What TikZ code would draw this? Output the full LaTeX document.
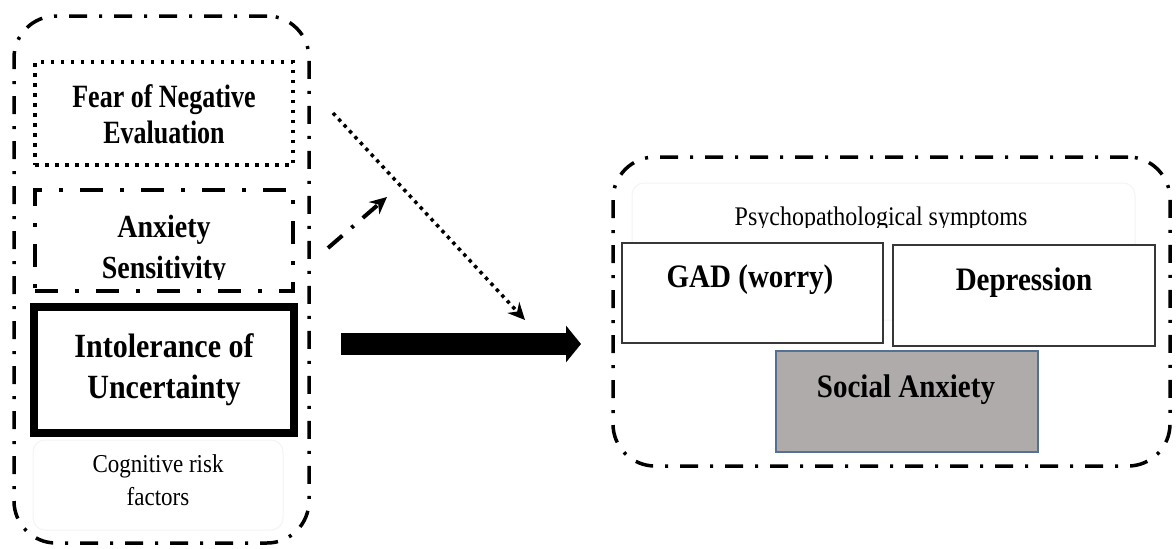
\documentclass[tikz,border=0pt]{standalone}
\usepackage{fontspec}
\usepackage{graphicx}
\setmainfont{Liberation Serif}
\usetikzlibrary{arrows.meta}
\definecolor{sagray}{RGB}{174,171,170}
\definecolor{saedge}{RGB}{84,112,146}
\definecolor{boxedge}{RGB}{55,55,55}
% tall, slightly condensed lettering
\newcommand{\tallline}[2]{\scalebox{1}[#1]{#2}}
\begin{document}
\begin{tikzpicture}[x=1pt,y=-1pt,
  every node/.style={inner sep=0pt, outer sep=0pt},
  group/.style={draw=black, line width=3.5pt, rounded corners=42pt,
    dash pattern=on 18pt off 12pt on 3pt off 12pt, rectangle},
  faintbox/.style={draw=gray!9, line width=1pt, rounded corners=12pt, rectangle},
  fnebox/.style={draw=black, line width=3.5pt, dash pattern=on 3.5pt off 6.5pt, rectangle},
  asbox/.style={draw=black, line width=4.5pt, dash pattern=on 23pt off 17pt on 4pt off 17pt, rectangle},
  iubox/.style={draw=black, line width=8pt, rectangle},
  symbox/.style={draw=boxedge, line width=2pt, fill=white, rectangle},
  sabox/.style={draw=saedge, line width=2pt, fill=sagray, rectangle},
  risklabel/.style={font=\bfseries, align=center, anchor=base},
  plainlabel/.style={align=center, anchor=base},
  dotarrow/.style={line width=3.5pt, dash pattern=on 3.5pt off 4.5pt, -{Stealth[length=17pt,width=16pt]}},
  dasharrow/.style={line width=4pt, dash pattern=on 19pt off 12pt on 3pt off 12pt, -{Stealth[length=17pt,width=16pt]}},
  bigarrow/.style={line width=22pt, -{Triangle[length=15pt,width=36pt]}}
]
\useasboundingbox (0,0) rectangle (1176,549);
\fill[white] (0,0) rectangle (1176,549);

% outer groups
\node[group, minimum width=295pt, minimum height=527pt] (risk) at (161.5,279.5) {};
\node[group, minimum width=557pt, minimum height=309pt] (sym) at (891.5,311.5) {};

% faint text frames
\node[faintbox, minimum width=250pt, minimum height=90pt] (riskframe) at (158,485) {};
\node[faintbox, minimum width=503pt, minimum height=137pt] (symframe) at (883.5,251.5) {};

% risk factor boxes
\node[fnebox, minimum width=258pt, minimum height=103pt] (fne) at (164,113.5) {};
\node[asbox, minimum width=258pt, minimum height=101pt] (as) at (164,240.5) {};
\node[iubox, minimum width=260pt, minimum height=126pt] (iu) at (164,370) {};

% symptom boxes
\node[symbox, minimum width=261pt, minimum height=100pt] (gad) at (752.5,293) {};
\node[symbox, minimum width=262pt, minimum height=101pt] (dep) at (1024,295.5) {};
\node[sabox, minimum width=262pt, minimum height=101pt] (sa) at (907,401.5) {};

% labels (base anchor sits on the last line)
\node[risklabel, font=\bfseries\fontsize{26}{36}\selectfont] (fnet) at (164,143)
  {\tallline{1.25}{Fear of Negative}\\\tallline{1.25}{Evaluation}};
\begin{scope}
  \clip (35,192) rectangle (293,279);
  \node[risklabel, font=\bfseries\fontsize{28}{41}\selectfont] (ast) at (164,278)
    {\tallline{1.15}{Anxiety}\\\tallline{1.15}{Sensitivity}};
\end{scope}
\node[risklabel, font=\bfseries\fontsize{30}{41}\selectfont] (iut) at (164,398)
  {\tallline{1.13}{Intolerance of}\\\tallline{1.13}{Uncertainty}};
\node[plainlabel, font=\fontsize{23}{33}\selectfont] (riskt) at (158,505)
  {\tallline{1.12}{Cognitive risk}\\\tallline{1.12}{factors}};

\begin{scope}
  \clip (620,190) rectangle (1140,227);
  \node[plainlabel, font=\fontsize{24}{28}\selectfont] (symt) at (881,225)
    {\tallline{1.12}{Psychopathological symptoms}};
\end{scope}
\node[risklabel, font=\bfseries\fontsize{29}{34}\selectfont] (gadt) at (750,287) {\tallline{1.13}{GAD (worry)}};
\node[risklabel, font=\bfseries\fontsize{29}{34}\selectfont] (dept) at (1024,290) {\tallline{1.13}{Depression}};
\node[risklabel, font=\bfseries\fontsize{29}{34}\selectfont] (sat) at (906,397) {\tallline{1.13}{Social Anxiety}};

% connectors
\coordinate (fneS) at (333,113);
\coordinate (fneE) at (525,320);
\coordinate (asS) at (328,248);
\coordinate (asE) at (387,197);
\coordinate (iuS) at (341,344);
\coordinate (iuE) at (581,344);
\draw[dotarrow] (fneS) -- (fneE);
\draw[dasharrow] (asS) -- (asE);
\draw[bigarrow] (iuS) -- (iuE);
\end{tikzpicture}
\end{document}
